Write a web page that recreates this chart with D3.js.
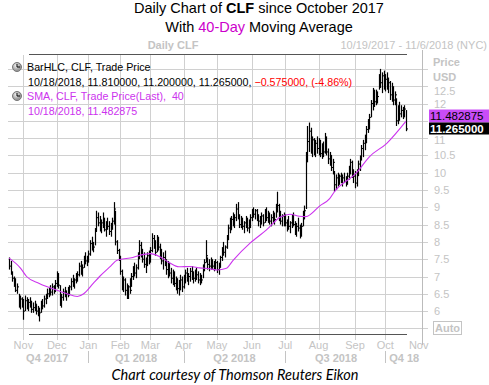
<!DOCTYPE html>
<html>
<head>
<meta charset="utf-8">
<script src="https://cdn.jsdelivr.net/npm/d3@7/dist/d3.min.js"></script>
<style>
  body { margin: 0; background: #fff; }
  svg { display: block; font-family: "Liberation Sans", Arial, sans-serif; }
</style>
</head>
<body>
<div id="chart"></div>
<script>
// Données - index = jours de bourse depuis le 1er nov. 2017
const firstIndex = -9
const highs = [
  7.55, 7.45, 7.15, 7.00, 6.95, 6.80, 6.50, 6.45, 6.40,
  6.35, 6.45, 6.40, 6.35, 6.40, 6.30, 6.25, 6.30, 6.20, 6.15, 6.10, 6.30, 6.35, 6.45, 6.50, 6.65, 6.70, 6.75, 6.80, 6.75, 6.90,
  7.15, 7.10, 6.75, 6.50, 6.65, 6.70, 6.60, 6.70, 6.75, 6.95, 7.05, 6.95, 7.10, 7.15, 7.40, 7.45, 7.35, 7.60, 7.70, 7.60,
  7.75, 8.05, 8.15, 8.00, 8.40, 8.90, 8.85, 8.75, 8.65, 8.85, 8.70, 8.60, 8.70, 8.60, 8.55, 8.70, 9.15, 8.90, 8.05, 7.80,
  7.60, 7.20, 7.00, 6.95, 6.80, 6.75, 6.95, 7.10, 7.30, 7.40, 7.35, 7.70, 8.05, 8.00, 7.80, 7.70, 7.55, 7.70, 7.75,
  7.85, 8.25, 8.20, 8.05, 8.20, 8.15, 7.95, 7.80, 7.70, 7.75, 7.50, 7.45, 7.40, 7.25, 7.20, 7.15, 7.00, 6.95, 6.90, 7.05, 7.00,
  7.05, 7.20, 7.25, 7.10, 7.25, 7.30, 7.15, 7.20, 7.25, 7.15, 7.10, 7.05, 7.35, 7.50, 8.05, 7.55, 7.50, 7.55, 7.50, 7.45, 7.50,
  7.45, 7.40, 7.60, 7.85, 8.00, 7.90, 8.20, 8.50, 8.70, 8.75, 8.85, 8.80, 9.10, 9.15, 8.80, 8.75, 8.70, 8.60, 8.75, 8.70, 8.65, 8.80,
  8.95, 9.00, 8.95, 8.95, 8.80, 8.75, 8.85, 8.80, 8.95, 9.00, 8.90, 8.85, 8.80, 8.90, 8.85, 9.10, 9.45, 9.10, 8.90, 8.80, 8.85,
  8.80, 8.65, 8.75, 8.60, 8.80, 8.85, 8.60, 8.55, 8.70, 8.50, 8.55, 8.90, 9.05, 10.60, 11.35, 11.45, 11.30, 11.05, 11.00, 10.95, 11.05,
  11.00, 10.95, 10.85, 10.90, 11.15, 11.05, 10.70, 10.60, 10.50, 10.40, 10.05, 9.95, 10.00, 9.95, 10.00, 9.95, 10.00, 9.90, 10.00, 10.20, 10.40, 10.35, 10.10,
  10.05, 10.10, 10.35, 10.50, 10.80, 10.95, 11.10, 11.35, 11.55, 11.70, 12.10, 12.45, 12.40, 12.40, 12.35, 12.85, 13.00, 12.90, 12.95,
  12.85, 12.90, 12.75, 12.65, 12.60, 12.50, 12.35, 12.15, 11.95, 12.05, 11.95, 11.90, 11.95, 11.81
]
const lows = [
  7.20, 7.05, 6.85, 6.70, 6.55, 6.50, 6.10, 6.05, 6.10,
  5.75, 6.00, 6.05, 6.00, 6.10, 5.95, 5.95, 6.00, 5.90, 5.85, 5.70, 5.95, 6.05, 6.10, 6.20, 6.35, 6.40, 6.45, 6.45, 6.50, 6.55,
  6.70, 6.65, 6.15, 6.10, 6.30, 6.40, 6.30, 6.40, 6.45, 6.60, 6.70, 6.65, 6.80, 6.85, 7.00, 7.05, 7.00, 7.25, 7.35, 7.30,
  7.40, 7.60, 7.75, 7.70, 7.90, 8.30, 8.45, 8.30, 8.25, 8.40, 8.30, 8.15, 8.35, 8.20, 8.15, 8.35, 8.50, 7.90, 7.65, 7.45,
  7.05, 6.60, 6.55, 6.45, 6.35, 6.35, 6.50, 6.70, 6.90, 7.00, 6.95, 7.20, 7.50, 7.55, 7.40, 7.25, 7.10, 7.30, 7.35,
  7.40, 7.70, 7.80, 7.60, 7.70, 7.75, 7.50, 7.35, 7.20, 7.30, 7.05, 6.95, 7.00, 6.80, 6.75, 6.70, 6.60, 6.50, 6.45, 6.60, 6.55,
  6.65, 6.80, 6.85, 6.75, 6.85, 6.90, 6.80, 6.85, 6.90, 6.80, 6.75, 6.80, 6.95, 7.15, 7.40, 7.20, 7.15, 7.20, 7.20, 7.15, 7.20,
  7.10, 7.05, 7.25, 7.45, 7.60, 7.55, 7.80, 8.05, 8.25, 8.35, 8.45, 8.40, 8.60, 8.65, 8.40, 8.40, 8.35, 8.25, 8.40, 8.30, 8.25, 8.40,
  8.60, 8.70, 8.65, 8.60, 8.45, 8.40, 8.50, 8.45, 8.55, 8.60, 8.55, 8.50, 8.45, 8.55, 8.50, 8.70, 8.85, 8.60, 8.50, 8.45, 8.45,
  8.45, 8.30, 8.35, 8.25, 8.40, 8.45, 8.20, 8.15, 8.30, 8.10, 8.15, 8.45, 8.65, 8.95, 10.30, 10.60, 10.55, 10.45, 10.50, 10.45, 10.55,
  10.50, 10.45, 10.40, 10.45, 10.55, 10.50, 10.25, 10.20, 10.05, 9.95, 9.45, 9.50, 9.60, 9.65, 9.70, 9.60, 9.70, 9.60, 9.65, 9.80, 9.95, 9.85, 9.70,
  9.55, 9.60, 9.90, 10.05, 10.35, 10.45, 10.65, 10.85, 11.15, 11.25, 11.60, 11.80, 11.90, 11.95, 12.00, 12.40, 12.45, 12.30, 12.40,
  12.35, 12.40, 12.30, 12.10, 12.05, 11.95, 11.95, 11.35, 11.40, 11.50, 11.60, 11.55, 11.60, 11.20
]
const closes = [
  7.30, 7.10, 6.95, 6.80, 6.60, 6.70, 6.20, 6.35, 6.20,
  6.00, 6.30, 6.15, 6.25, 6.20, 6.05, 6.10, 6.20, 6.00, 5.95, 5.95, 6.20, 6.15, 6.35, 6.40, 6.50, 6.60, 6.55, 6.70, 6.65, 6.80,
  7.00, 6.75, 6.30, 6.40, 6.55, 6.45, 6.50, 6.60, 6.70, 6.85, 6.80, 6.90, 7.00, 7.05, 7.30, 7.15, 7.25, 7.50, 7.45, 7.55,
  7.65, 7.95, 7.90, 7.85, 8.30, 8.70, 8.55, 8.40, 8.55, 8.60, 8.35, 8.50, 8.45, 8.30, 8.45, 8.60, 8.95, 8.00, 7.75, 7.55,
  7.15, 6.70, 6.90, 6.60, 6.50, 6.70, 6.60, 7.00, 7.20, 7.10, 7.25, 7.60, 7.90, 7.70, 7.50, 7.35, 7.45, 7.60, 7.50,
  7.75, 8.10, 7.90, 7.70, 8.00, 7.85, 7.60, 7.45, 7.55, 7.40, 7.20, 7.30, 7.10, 6.95, 7.05, 6.80, 6.75, 6.65, 6.80, 6.90, 6.70,
  6.95, 7.10, 6.95, 7.00, 7.15, 7.00, 6.95, 7.10, 7.05, 6.90, 7.00, 6.90, 7.25, 7.40, 7.60, 7.35, 7.30, 7.45, 7.30, 7.35, 7.40,
  7.20, 7.30, 7.55, 7.75, 7.70, 7.85, 8.10, 8.40, 8.35, 8.65, 8.55, 8.70, 8.95, 8.75, 8.50, 8.65, 8.45, 8.55, 8.60, 8.40, 8.50, 8.70,
  8.85, 8.80, 8.90, 8.70, 8.60, 8.65, 8.75, 8.55, 8.85, 8.70, 8.80, 8.60, 8.70, 8.80, 8.65, 9.00, 9.05, 8.70, 8.60, 8.75, 8.55,
  8.55, 8.50, 8.45, 8.55, 8.70, 8.50, 8.35, 8.45, 8.40, 8.25, 8.45, 8.80, 8.90, 10.40, 10.90, 11.20, 10.80, 10.95, 10.60, 10.85, 10.70,
  10.90, 10.55, 10.75, 10.60, 11.00, 10.60, 10.40, 10.50, 10.15, 10.30, 9.65, 9.85, 9.75, 9.90, 9.80, 9.85, 9.75, 9.80, 9.90, 10.10, 10.30, 9.95, 9.90,
  9.70, 10.00, 10.25, 10.40, 10.70, 10.85, 10.95, 11.25, 11.45, 11.60, 12.00, 12.30, 12.05, 12.30, 12.20, 12.75, 12.60, 12.80, 12.55,
  12.70, 12.50, 12.60, 12.25, 12.45, 12.10, 12.25, 11.50, 11.85, 11.70, 11.80, 11.85, 11.84, 11.265
]

// moyenne mobile 40 jours (points relevés)
const smaAt = [-9, -2, 2, 10, 19, 27, 34, 38, 44, 48, 55, 59, 69, 76, 80, 86, 92, 98, 105, 111, 118, 122, 128, 132, 143, 153, 162, 168, 174, 178, 187, 193, 196, 210, 218, 229, 241]
const smaValues = [7.53, 7.25, 7.0, 6.8, 6.64, 6.51, 6.42, 6.50, 6.80, 7.0, 7.3, 7.47, 7.55, 7.64, 7.66, 7.57, 7.40, 7.28, 7.29, 7.25, 7.22, 7.19, 7.24, 7.46, 7.97, 8.34, 8.72, 8.80, 8.74, 8.73, 9.05, 9.25, 9.45, 10.0, 10.46, 10.85, 11.482875]

const months = ["Nov", "Dec", "Jan", "Feb", "Mar", "Apr", "May", "Jun", "Jul", "Aug", "Sep", "Oct", "Nov"]
const monthStart = [0, 21, 41, 61, 80, 101, 122, 144, 165, 186, 209, 228, 251]
const quarters = ["Q4 2017", "Q1 2018", "Q2 2018", "Q3 2018", "Q4 18"]
const quarterAt = [15, 71, 133, 197, 240]
const quarterBreaks = [41, 101, 165, 228]
const gridValues = [5.5, 6, 6.5, 7, 7.5, 8, 8.5, 9, 9.5, 10, 10.5, 11, 11.5, 12, 12.5, 13]
// 11.5 est caché derrière l'étiquette de la SMA
const tickLabels = [6, 6.5, 7, 7.5, 8, 8.5, 9, 9.5, 10, 10.5, 11, 12, 12.5]
const lastDate = "10/18/2018"
const rangeLabel = "10/19/2017 - 11/6/2018 (NYC)"

const width = 489, height = 385
const grey = "#c4c4c4", gridGrey = "#d0d0d0", magenta = "#cc33ee"

let x = d3.scaleLinear().domain([-9.7, 251]).range([8, 421.7])
let y = d3.scaleLinear().domain([5.5, 13]).range([328.4, 68.9])

let svg = d3.select("#chart").append("svg")
    .attr("width", width)
    .attr("height", height)

// Titre
let t1 = svg.append("text").attr("x", 259).attr("y", 13).attr("text-anchor", "middle")
    .style("font-size", "14.5px").attr("fill", "#000")
t1.append("tspan").text("Daily Chart of ")
t1.append("tspan").attr("font-weight", "bold").text("CLF")
t1.append("tspan").text(" since October 2017")
let t2 = svg.append("text").attr("x", 259).attr("y", 32).attr("text-anchor", "middle")
    .style("font-size", "14.5px").attr("fill", "#000")
t2.append("tspan").text("With ")
t2.append("tspan").attr("fill", "#cc00cc").text("40-Day")
t2.append("tspan").text(" Moving Average")

svg.append("text").attr("x", 173).attr("y", 49).attr("text-anchor", "middle")
    .style("font-size", "11px").attr("font-weight", "bold").attr("fill", grey).text("Daily CLF")
svg.append("text").attr("x", 487).attr("y", 49).attr("text-anchor", "end")
    .style("font-size", "11px").attr("fill", grey).text(rangeLabel)

// Grille
svg.append("g").selectAll("line").data(gridValues).join("line")
    .attr("x1", 8).attr("x2", 428)
    .attr("y1", d => Math.round(y(d)) + 0.5).attr("y2", d => Math.round(y(d)) + 0.5)
    .attr("stroke", gridGrey)
svg.append("g").selectAll("line").data(monthStart).join("line")
    .attr("x1", d => Math.round(x(d)) + 0.5).attr("x2", d => Math.round(x(d)) + 0.5)
    .attr("y1", 55).attr("y2", 340)
    .attr("stroke", gridGrey)

// cadre haut / bas
svg.append("line").attr("x1", 29).attr("x2", 407).attr("y1", 54.5).attr("y2", 54.5).attr("stroke", "#555")
svg.append("line").attr("x1", 29).attr("x2", 407).attr("y1", 334.5).attr("y2", 334.5).attr("stroke", "#555")

// axe de droite
svg.append("line").attr("x1", 422.5).attr("x2", 422.5).attr("y1", 50).attr("y2", 345).attr("stroke", "#bbb")
svg.append("text").attr("x", 433).attr("y", 66).style("font-size", "11px").attr("font-weight", "bold").attr("fill", grey).text("Price")
svg.append("text").attr("x", 433).attr("y", 81).style("font-size", "11px").attr("font-weight", "bold").attr("fill", grey).text("USD")
svg.append("g").selectAll("text").data(tickLabels).join("text")
    .attr("x", 434)
    .attr("y", d => y(d) + 4 + (d === 12.5 ? 5 : 0) + (d === 11 ? 2 : 0))
    .style("font-size", "11px").attr("fill", grey)
    .text(d => d)
svg.append("rect").attr("x", 433.5).attr("y", 321.5).attr("width", 28).attr("height", 13)
    .attr("fill", "#fff").attr("stroke", grey)
svg.append("text").attr("x", 447.5).attr("y", 332).attr("text-anchor", "middle")
    .style("font-size", "11px").attr("font-weight", "bold").attr("fill", grey).text("Auto")

// axe du temps
svg.append("g").selectAll("text").data(months).join("text")
    .attr("x", (d, i) => x(monthStart[i]) - (i === months.length - 1 ? 3 : 0))
    .attr("y", 349).attr("text-anchor", "middle")
    .style("font-size", "11px").attr("fill", grey).text(d => d)
svg.append("g").selectAll("text").data(quarters).join("text")
    .attr("x", (d, i) => x(quarterAt[i]))
    .attr("y", 362).attr("text-anchor", "middle")
    .style("font-size", "11px").attr("font-weight", "bold").attr("fill", grey).text(d => d)
svg.append("g").selectAll("line").data(quarterBreaks).join("line")
    .attr("x1", d => Math.round(x(d)) + 0.5).attr("x2", d => Math.round(x(d)) + 0.5)
    .attr("y1", 351).attr("y2", 363).attr("stroke", grey)

// Barres HLC
let bars = svg.append("g")
highs.forEach((h, k) => {
    let px = Math.round(x(firstIndex + k)) + 0.5
    bars.append("line").attr("x1", px).attr("x2", px)
        .attr("y1", y(h)).attr("y2", y(lows[k]))
        .attr("stroke", "#000").attr("stroke-width", 1.2)
    bars.append("line").attr("x1", px).attr("x2", px + 1.5)
        .attr("y1", y(closes[k])).attr("y2", y(closes[k]))
        .attr("stroke", "#000").attr("stroke-width", 1)
})

// SMA 40
let sma = smaAt.map((d, i) => [d, smaValues[i]])
svg.append("path").datum(sma)
    .attr("d", d3.line().x(d => x(d[0])).y(d => y(d[1])).curve(d3.curveMonotoneX))
    .attr("fill", "none").attr("stroke", magenta).attr("stroke-width", 1.1)

// Légende
let fmt = d3.format(".6f")
let n = closes.length
let change = closes[n - 1] - closes[n - 2]
let pct = change / closes[n - 2] * 100

let grad = svg.append("defs").append("radialGradient").attr("id", "clk").attr("cx", "40%").attr("cy", "35%")
grad.append("stop").attr("offset", "0%").attr("stop-color", "#f4f4f4")
grad.append("stop").attr("offset", "100%").attr("stop-color", "#9a9a9a")
let icon = (cy) => {
    let g = svg.append("g").attr("transform", `translate(17,${cy})`)
    g.append("circle").attr("r", 4.5).attr("fill", "url(#clk)").attr("stroke", "#777")
    g.append("line").attr("x1", 0).attr("y1", 0).attr("x2", 0).attr("y2", -3).attr("stroke", "#000").attr("stroke-width", 1)
    g.append("line").attr("x1", 0).attr("y1", 0).attr("x2", 3).attr("y2", 0).attr("stroke", "#000").attr("stroke-width", 1)
}
icon(67)
icon(96)

const legendSize = "10.7px"
svg.append("text").attr("x", 27).attr("y", 71).style("font-size", legendSize).attr("fill", "#000").text("BarHLC, CLF, Trade Price")
let l2 = svg.append("text").attr("x", 28).attr("y", 86).style("font-size", legendSize).attr("fill", "#000")
l2.append("tspan").text(`${lastDate}, ${fmt(highs[n - 1])}, ${fmt(lows[n - 1])}, ${fmt(closes[n - 1])}, `)
l2.append("tspan").attr("fill", "#ff0000").text(`${fmt(change)}, (${pct.toFixed(2)}%)`)
svg.append("text").attr("x", 27).attr("y", 100).style("font-size", legendSize).attr("fill", magenta)
    .attr("xml:space", "preserve").text("SMA, CLF, Trade Price(Last),  40")
svg.append("text").attr("x", 28).attr("y", 115).style("font-size", legendSize).attr("fill", magenta)
    .text(`${lastDate}, ${fmt(smaValues[smaValues.length - 1])}`)

// étiquettes de dernière valeur
svg.append("rect").attr("x", 429).attr("y", 109.5).attr("width", 60).attr("height", 13).attr("fill", "#c94cf7")
svg.append("text").attr("x", 430).attr("y", 120).style("font-size", "11.5px").attr("fill", "#000")
    .text(fmt(smaValues[smaValues.length - 1]))
svg.append("rect").attr("x", 429).attr("y", 122.5).attr("width", 60).attr("height", 12).attr("fill", "#000")
svg.append("text").attr("x", 430).attr("y", 133).style("font-size", "11.5px").attr("font-weight", "bold").attr("fill", "#fff")
    .text(fmt(closes[n - 1]))

// Crédit
svg.append("text").attr("x", 235).attr("y", 380).attr("text-anchor", "middle")
    .style("font-size", "14.5px").style("font-style", "italic").style("font-family", "Lato, sans-serif")
    .attr("fill", "#000").text("Chart courtesy of Thomson Reuters Eikon")
</script>
</body>
</html>
